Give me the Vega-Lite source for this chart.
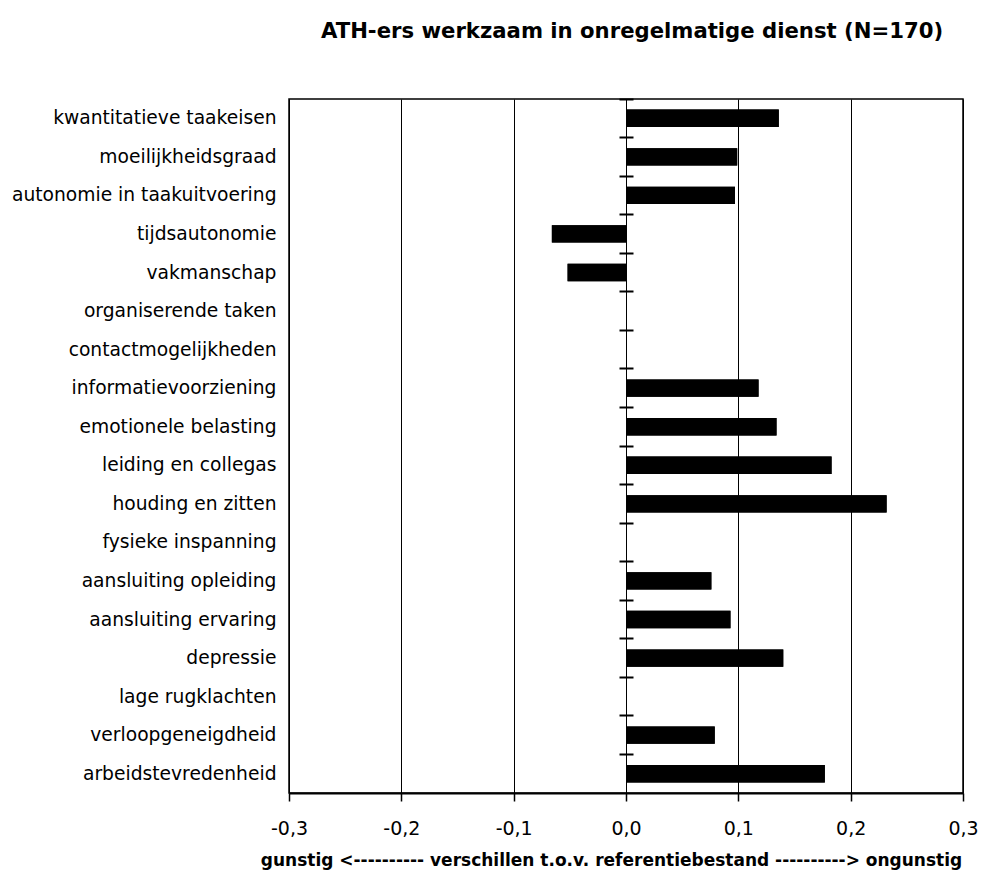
{
  "$schema": "https://vega.github.io/schema/vega-lite/v6.json",
  "autosize": {"type": "none"},
  "padding": {"left": 289, "top": 99, "right": 30, "bottom": 85},
  "width": 674,
  "height": 694,
  "background": "white",
  "title": {
    "text": "ATH-ers werkzaam in onregelmatige dienst (N=170)",
    "font": "DejaVu Sans",
    "fontSize": 21.2,
    "fontWeight": "bold",
    "color": "black",
    "anchor": "middle",
    "dx": 6,
    "offset": 56
  },
  "config": {
    "view": {"stroke": "black", "strokeWidth": 1.5},
    "font": "DejaVu Sans"
  },
  "data": {
    "values": [
      {"factor": "kwantitatieve taakeisen", "verschil": 0.136},
      {"factor": "moeilijkheidsgraad", "verschil": 0.099},
      {"factor": "autonomie in taakuitvoering", "verschil": 0.097},
      {"factor": "tijdsautonomie", "verschil": -0.066},
      {"factor": "vakmanschap", "verschil": -0.052},
      {"factor": "organiserende taken", "verschil": 0},
      {"factor": "contactmogelijkheden", "verschil": 0},
      {"factor": "informatievoorziening", "verschil": 0.118},
      {"factor": "emotionele belasting", "verschil": 0.134},
      {"factor": "leiding en collegas", "verschil": 0.183},
      {"factor": "houding en zitten", "verschil": 0.232},
      {"factor": "fysieke inspanning", "verschil": 0},
      {"factor": "aansluiting opleiding", "verschil": 0.076},
      {"factor": "aansluiting ervaring", "verschil": 0.093},
      {"factor": "depressie", "verschil": 0.140},
      {"factor": "lage rugklachten", "verschil": 0},
      {"factor": "verloopgeneigdheid", "verschil": 0.079},
      {"factor": "arbeidstevredenheid", "verschil": 0.177}
    ]
  },
  "resolve": {"axis": {"y": "independent"}},
  "layer": [
    {
      "mark": {"type": "bar", "color": "black"},
      "encoding": {
        "y": {
          "field": "factor",
          "type": "nominal",
          "sort": null,
          "scale": {"paddingInner": 0.55, "paddingOuter": 0.275},
          "axis": {
            "orient": "left",
            "title": null,
            "domain": false,
            "ticks": false,
            "labelPadding": 13,
            "labelFontSize": 18.7,
            "labelColor": "black",
            "labelFont": "DejaVu Sans",
            "labelLimit": 400
          }
        },
        "x": {
          "field": "verschil",
          "type": "quantitative",
          "scale": {"domain": [-0.3, 0.3], "nice": false, "zero": false},
          "axis": {
            "values": [-0.3, -0.2, -0.1, 0, 0.1, 0.2, 0.3],
            "labelExpr": "replace(replace(format(datum.value, '.1f'), '.', ','), '\u2212', '-')",
            "labelFlush": false,
            "grid": true,
            "gridColor": "black",
            "gridWidth": 1,
            "gridOpacity": 1,
            "domainColor": "black",
            "domainWidth": 2,
            "tickColor": "black",
            "tickWidth": 1.5,
            "tickSize": 8,
            "labelPadding": 18,
            "labelFontSize": 19,
            "labelColor": "black",
            "labelFont": "DejaVu Sans",
            "title": "gunstig <---------- verschillen t.o.v. referentiebestand ----------> ongunstig",
            "titleFont": "DejaVu Sans",
            "titleFontSize": 17,
            "titleFontWeight": "bold",
            "titleColor": "black",
            "titleX": 322,
            "titleAlign": "center",
            "titlePadding": 14
          }
        }
      }
    },
    {
      "mark": {"type": "bar", "color": "black"},
      "encoding": {
        "y": {
          "field": "factor",
          "type": "nominal",
          "sort": null,
          "axis": {
            "orient": "left",
            "offset": -344,
            "title": null,
            "labels": false,
            "domain": false,
            "grid": false,
            "ticks": true,
            "tickSize": 14,
            "tickWidth": 2,
            "tickColor": "black",
            "bandPosition": -0.6111
          }
        },
        "x": {"field": "verschil", "type": "quantitative"}
      }
    }
  ]
}
